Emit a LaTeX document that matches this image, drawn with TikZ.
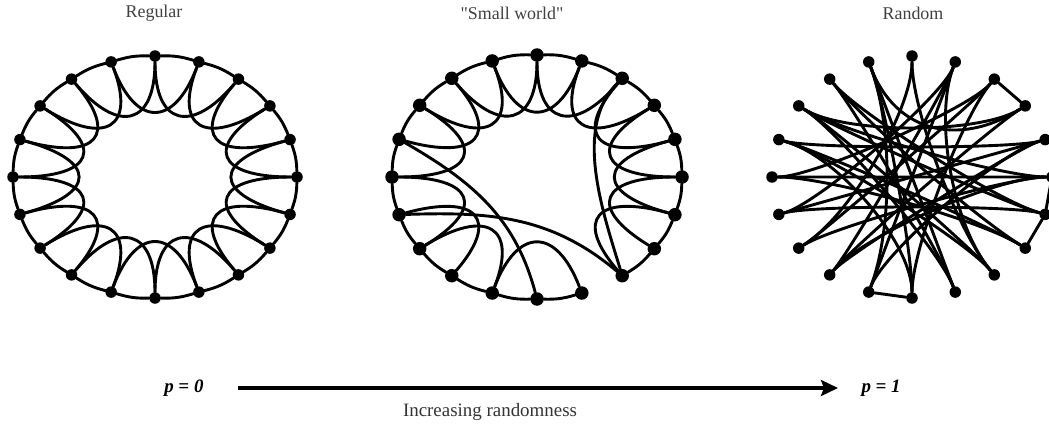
\documentclass[tikz,border=0pt]{standalone}
\usepackage{fontspec}
\setmainfont{Liberation Serif}
\usetikzlibrary{calc,arrows.meta}
\begin{document}
\begin{tikzpicture}[x=1bp,y=1bp,
  vtx/.style={circle,fill=black,inner sep=0pt,minimum size=11.5bp},
  bigvtx/.style={circle,fill=black,inner sep=0pt,minimum size=13.5bp},
  edge/.style={line width=2.9bp,line cap=round},
  ttl/.style={font=\fontsize{18}{21}\selectfont, text=black!75},
  lbl/.style={font=\fontsize{19}{22}\selectfont\bfseries\itshape},
  captxt/.style={font=\fontsize{19}{22}\selectfont, text=black!80}]
\useasboundingbox (0,0) rectangle (1049,425);

% ---------------- Regular ----------------
\coordinate (rc) at (155,248);
\foreach \k in {0,...,19}{
  \node[vtx] (r\k) at ($(rc)+({142*cos(90-18*\k)},{121*sin(90-18*\k)})$) {};
}
\foreach \k in {0,...,19}{
  \pgfmathtruncatemacro{\n}{mod(\k+1,20)}
  \pgfmathtruncatemacro{\m}{mod(\k+2,20)}
  \draw[edge] (r\k) to[bend left=9] (r\n);
  \draw[edge] (r\k) .. controls ($(r\k)!0.57!(rc)$) and ($(r\m)!0.57!(rc)$) .. (r\m);
}

% ---------------- Small world ----------------
\coordinate (sc) at (537,248);
\foreach \k in {0,...,19}{
  \node[bigvtx] (s\k) at ($(sc)+({145*cos(90-18*\k)},{122*sin(90-18*\k)})$) {};
}
\foreach \a/\b in {0/1,1/2,2/3,3/4,4/5,5/6,6/7,7/8,9/10,10/11,11/12,12/13,13/14,14/15,15/16,16/17,17/18,18/19,19/0}{
  \draw[edge] (s\a) to[bend left=9] (s\b);
}
\foreach \a/\b in {0/2,1/3,2/4,3/5,4/6,5/7,6/8,9/11,11/13,12/14,13/15,15/17,16/18,17/19,18/0,19/1}{
  \draw[edge] (s\a) .. controls ($(s\a)!0.57!(sc)$) and ($(s\b)!0.57!(sc)$) .. (s\b);
}
\draw[edge] (s14) to[out=2,in=140] (s8);
\draw[edge] (s16) to[out=-30,in=105] (s10);
\draw[edge] (s2) to[out=-135,in=107,looseness=0.85] (s8);

% ---------------- Random ----------------
\coordinate (qc) at (912,248);
\foreach \k in {0,...,19}{
  \node[vtx] (q\k) at ($(qc)+({140*cos(90-18*\k)},{121*sin(90-18*\k)})$) {};
}
\foreach \a/\b in {2/3,5/6,6/7,10/11}{
  \draw[edge] (q\a) -- (q\b);
}
\foreach \a/\b/\f in {0/13/0.45,0/8/0.45,1/14/0.3,1/12/0.25,1/11/0.35,1/8/0.5,2/15/0.3,2/10/0.4,2/13/0.2,3/17/0.4,3/12/0.3,4/16/0.25,4/14/0.3,4/11/0.35,4/12/0.2,5/15/0.2,5/17/0.35,5/13/0.3,5/12/0.4,6/17/0.3,6/18/0.35,6/14/0.25,7/16/0.3,7/15/0.4,7/18/0.45,8/17/0.3,8/16/0.35,9/18/0.3,9/19/0.5,9/17/0.35,10/16/0.45,10/19/0.4,11/19/0.55}{
  \draw[edge] (q\a) .. controls ($(q\a)!\f!(qc)$) and ($(q\b)!\f!(qc)$) .. (q\b);
}
\draw[edge] (q19) .. controls ($(q19)!0.6!(qc)$) and ($(q3)!0.6!(qc)$) .. (q3);

% ---------------- Titles ----------------
\node[ttl] (t1) at (154,412) {Regular};
\node[ttl] (t2) at (512,412) {\textquotedbl Small world\textquotedbl};
\node[ttl] (t3) at (913,412) {Random};

% ---------------- Bottom axis ----------------
\node[lbl,anchor=east] (p0) at (207,37) {p = 0};
\node[lbl,anchor=west] (p1) at (858,37) {p = 1};
\coordinate (a0) at (238,37);
\coordinate (a1) at (838,37);
\draw[line width=3.2bp,-{Stealth[length=17bp,width=16bp,inset=3bp]}] (a0) -- (a1);
\node[captxt] (inc) at (490,13) {Increasing randomness};
\end{tikzpicture}
\end{document}
